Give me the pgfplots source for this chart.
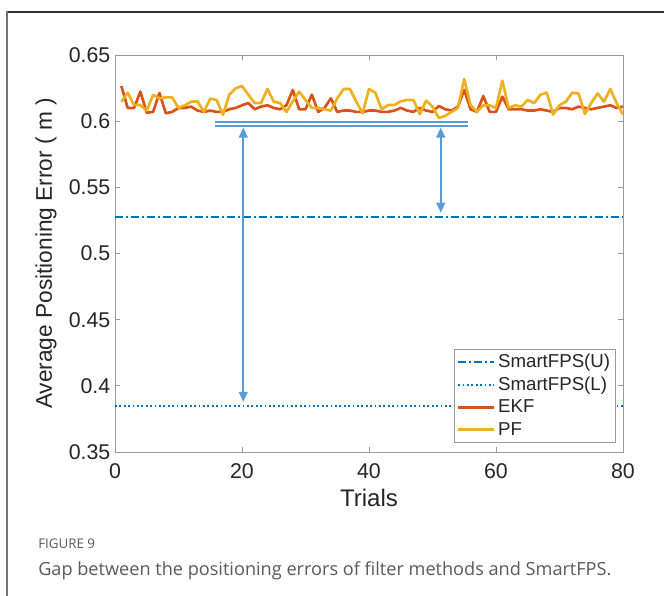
\documentclass[border=0pt]{standalone}
\usepackage{fontspec}
\setmainfont{Liberation Sans}
\newfontfamily\capfont{Open Sans}
\usepackage{pgfplots}
\pgfplotsset{compat=1.18}
\usetikzlibrary{arrows.meta}
\definecolor{mblue}{HTML}{0072BD}
\definecolor{mred}{HTML}{D95319}
\definecolor{myel}{HTML}{EDB120}
\definecolor{ablue}{HTML}{5B9BD5}
\definecolor{agray}{HTML}{9A9A9A}
\definecolor{tgray}{HTML}{262626}
\definecolor{capgray}{HTML}{5A5A5A}
\begin{document}
\begin{tikzpicture}
\useasboundingbox (0,0) rectangle (498pt,447pt);
\fill[white] (0,0) rectangle (498pt,447pt);
\draw[line width=1pt, color=black!80] (5.25pt,438pt) -- (498pt,438pt);
\draw[line width=1pt, color=black!55] (5.25pt,438.5pt) -- (5.25pt,0pt);
\node[anchor=base west, font=\capfont\fontsize{10}{10}\selectfont, text=capgray, inner sep=0pt] at (28.5pt,35.5pt) {FIGURE 9};
\node[anchor=base west, font=\capfont\fontsize{13.6}{13.6}\selectfont, text=capgray, inner sep=0pt] at (28.5pt,15.5pt) {Gap between the positioning errors of filter methods and SmartFPS.};
\begin{axis}[
  at={(86.25pt,108pt)}, anchor=south west,
  scale only axis, width=381pt, height=297.75pt,
  xmin=0, xmax=80, ymin=0.35, ymax=0.65,
  xtick={0,20,40,60,80},
  ytick={0.35,0.4,0.45,0.5,0.55,0.6,0.65},
  yticklabels={0.35,0.4,0.45,0.5,0.55,0.6,0.65},
  tick align=inside, tick pos=both,
  major tick length=3.75pt,
  axis line style={agray, line width=0.6pt},
  every tick/.style={agray, line width=0.6pt},
  /pgf/number format/assume math mode=true,
  tick label style={font=\fontsize{16}{16}\selectfont, text=tgray},
  xticklabel style={yshift=-5pt},
  xlabel={Trials},
  ylabel={Average Positioning Error ( m )},
  xlabel style={font=\fontsize{18}{18}\selectfont, text=tgray, at={(axis description cs:0.5,-0.116)}, anchor=center},
  ylabel style={font=\fontsize{17}{17}\selectfont, text=tgray, at={(axis description cs:-0.136,0.5)}, anchor=center},
  legend style={at={(rel axis cs:0.986,0.023)}, anchor=south east, draw=agray, line width=0.6pt,
    font=\fontsize{14}{14}\selectfont, text=tgray, inner sep=2pt, row sep=1.5pt},
  legend cell align=left,
  legend image code/.code={\draw[#1] (0pt,0pt) -- (27pt,0pt);},
]
\addplot[mblue, line width=1.9pt, dash pattern=on 6pt off 2pt on 2pt off 2pt] coordinates {(0,0.5275) (80,0.5275)};
\addlegendentry{SmartFPS(U)}
\addplot[mblue, line width=1.7pt, dash pattern=on 1.4pt off 1.9pt] coordinates {(0,0.385) (80,0.385)};
\addlegendentry{SmartFPS(L)}
\addplot[mred, line width=2pt, line join=round] coordinates {
(1,0.6266)(2,0.610)(3,0.610)(4,0.6223)(5,0.6064)(6,0.607)(7,0.6213)(8,0.606)(9,0.607)(10,0.610)
(11,0.610)(12,0.611)(13,0.608)(14,0.607)(15,0.608)(16,0.607)(17,0.607)(18,0.609)(19,0.610)(20,0.612)
(21,0.6137)(22,0.609)(23,0.611)(24,0.612)(25,0.610)(26,0.609)(27,0.612)(28,0.6236)(29,0.609)(30,0.609)
(31,0.620)(32,0.607)(33,0.610)(34,0.6173)(35,0.607)(36,0.608)(37,0.608)(38,0.607)(39,0.607)(40,0.608)
(41,0.608)(42,0.607)(43,0.607)(44,0.608)(45,0.610)(46,0.608)(47,0.607)(48,0.610)(49,0.608)(50,0.607)
(51,0.6115)(52,0.609)(53,0.608)(54,0.611)(55,0.6236)(56,0.609)(57,0.607)(58,0.619)(59,0.607)(60,0.607)
(61,0.6185)(62,0.609)(63,0.609)(64,0.609)(65,0.608)(66,0.608)(67,0.609)(68,0.608)(69,0.607)(70,0.610)
(71,0.610)(72,0.609)(73,0.611)(74,0.610)(75,0.609)(76,0.610)(77,0.611)(78,0.612)(79,0.610)(80,0.611)
};
\addlegendentry{EKF}
\addplot[myel, line width=2pt, line join=round] coordinates {
(1,0.6147)(2,0.6215)(3,0.6122)(4,0.6122)(5,0.608)(6,0.6198)(7,0.6173)(8,0.618)(9,0.618)(10,0.610)
(11,0.612)(12,0.6147)(13,0.615)(14,0.607)(15,0.617)(16,0.616)(17,0.6047)(18,0.620)(19,0.6248)(20,0.6266)
(21,0.620)(22,0.6137)(23,0.6137)(24,0.6243)(25,0.6147)(26,0.6137)(27,0.607)(28,0.615)(29,0.6223)(30,0.616)
(31,0.610)(32,0.610)(33,0.609)(34,0.608)(35,0.6173)(36,0.6243)(37,0.6243)(38,0.6147)(39,0.606)(40,0.6243)
(41,0.6215)(42,0.609)(43,0.6122)(44,0.6122)(45,0.615)(46,0.616)(47,0.616)(48,0.6053)(49,0.6155)(50,0.611)
(51,0.6024)(52,0.604)(53,0.607)(54,0.610)(55,0.6318)(56,0.6122)(57,0.607)(58,0.612)(59,0.612)(60,0.610)
(61,0.6306)(62,0.610)(63,0.612)(64,0.611)(65,0.616)(66,0.6137)(67,0.620)(68,0.6215)(69,0.605)(70,0.612)
(71,0.6147)(72,0.6215)(73,0.621)(74,0.6055)(75,0.6137)(76,0.621)(77,0.6147)(78,0.6243)(79,0.6137)(80,0.605)
};
\addlegendentry{PF}
\addplot[ablue, line width=1.2pt, forget plot] coordinates {(15.75,0.5994) (55.6,0.5994)};
\addplot[ablue, line width=1.2pt, forget plot] coordinates {(15.75,0.5964) (55.6,0.5964)};
\draw[ablue, line width=1.5pt, {Triangle[width=6.5pt,length=7.5pt]}-{Triangle[width=6.5pt,length=7.5pt]}] (axis cs:20.2,0.5952) -- (axis cs:20.2,0.3879);
\draw[ablue, line width=1.5pt, {Triangle[width=6.5pt,length=7.5pt]}-{Triangle[width=6.5pt,length=7.5pt]}] (axis cs:51.3,0.5952) -- (axis cs:51.3,0.5308);
\end{axis}
\end{tikzpicture}
\end{document}
